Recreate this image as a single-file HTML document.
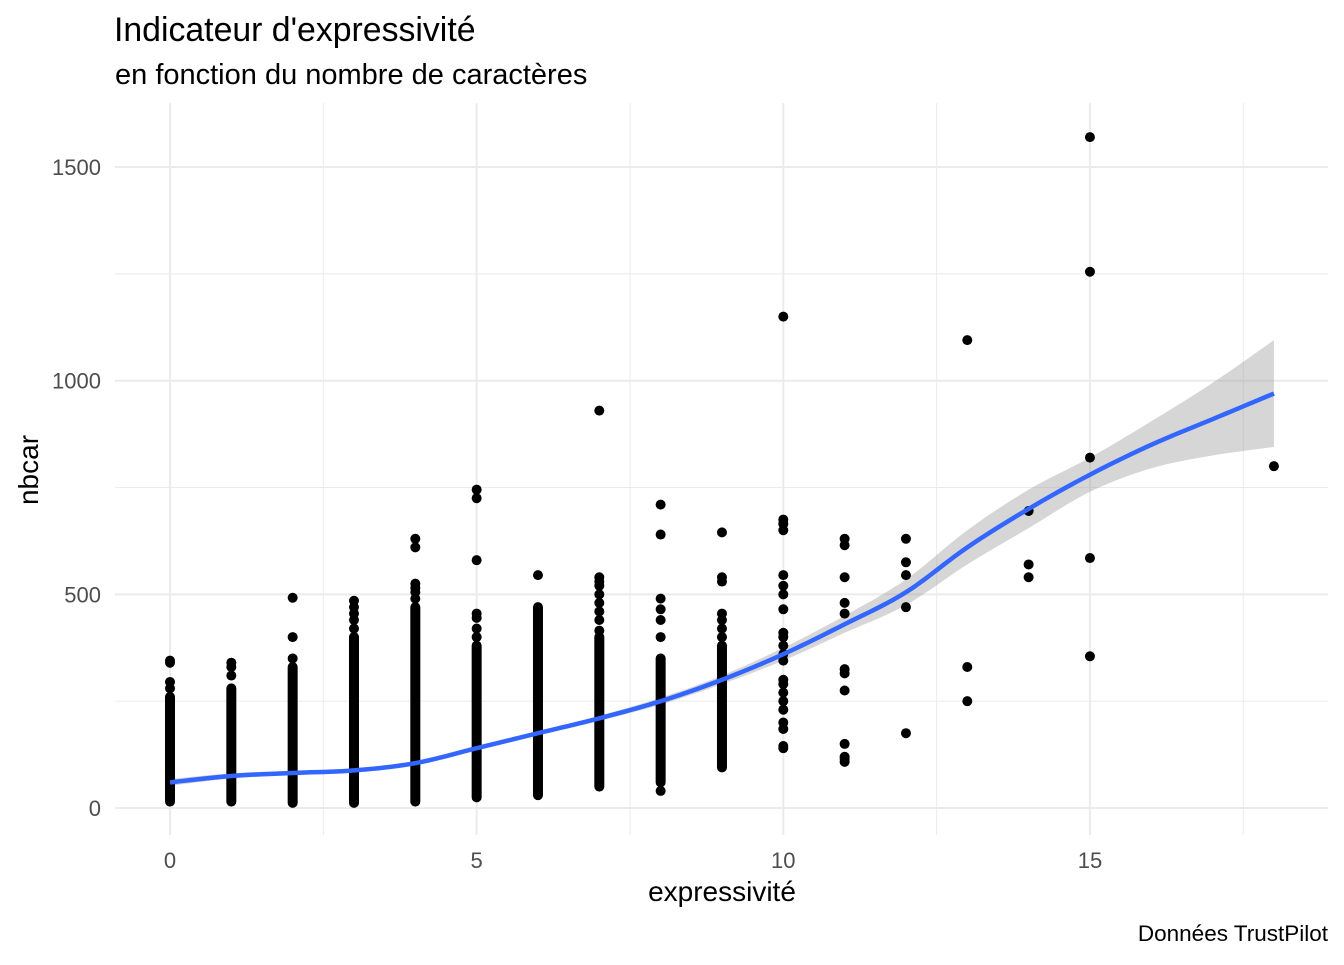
<!DOCTYPE html>
<html><head><meta charset="utf-8"><style>
html,body{margin:0;padding:0;background:#fff;}
svg text{font-family:"Liberation Sans",sans-serif;}
</style></head><body>
<svg id="chart" width="1344" height="960" xmlns="http://www.w3.org/2000/svg">
<text x="114" y="41" font-size="33.8" fill="#000">Indicateur d'expressivité</text>
<text x="115" y="84" font-size="29" fill="#000">en fonction du nombre de caractères</text>
<g id="grid"></g>
<g id="band"></g>
<g id="pts"></g>
<g id="line"></g>
<g id="axes"></g>
<text x="722" y="901" font-size="28" text-anchor="middle" fill="#000">expressivité</text>
<text transform="translate(38,470) rotate(-90)" font-size="28" text-anchor="middle" fill="#000">nbcar</text>
<text x="1328" y="941" font-size="22.5" text-anchor="end" fill="#000">Données TrustPilot</text>
</svg>
<script>
const xTicks=[0,5,10,15];
const yTicks=[0,500,1000,1500];
const xMinor=[2.5,7.5,12.5,17.5];
const yMinor=[250,750,1250];
// dense ranges per expressivity level
const denseX=[0,1,2,3,4,5,6,7,8,9];
const denseLo=[15,15,12,12,15,25,30,50,60,95];
const denseHi=[260,280,330,400,470,380,470,400,350,380];
// isolated points
const ptX=[0,0,0,0,1,1,1,2,2,2,3,3,3,3,3,4,4,4,4,4,4,5,5,5,5,5,5,5,6,7,7,7,7,7,7,7,7,7,8,8,8,8,8,8,8,9,9,9,9,9,9,9,
10,10,10,10,10,10,10,10,10,10,10,10,10,10,10,10,10,10,10,10,10,10,
11,11,11,11,11,11,11,11,11,11,11,11,12,12,12,12,12,13,13,13,14,14,14,15,15,15,15,15,18];
const ptY=[280,295,340,345,310,330,340,350,400,492,420,440,455,470,485,490,505,515,525,610,630,400,420,445,455,580,725,745,545,415,440,460,480,500,520,530,540,930,40,400,440,465,490,640,710,400,420,440,455,530,540,645,
140,145,185,200,230,250,270,290,300,345,360,380,400,410,465,500,520,545,650,665,675,1150,
108,115,120,150,275,315,325,455,480,540,615,630,175,470,545,575,630,250,330,1095,540,570,695,355,585,820,1255,1570,800];
const fitX=[0,1,2,3,4,5,6,7,8,9,10,11,12,13,14,15,16,17,18];
const fitY=[60,75,82,88,105,140,175,210,250,300,360,430,505,610,700,780,850,910,970];
const fitSE=[8,6,5,5,5,5,5,6,8,10,15,20,30,40,45,40,55,85,125];

const sx=v=>170+v*61.33, sy=v=>808-v*0.4273;
const NS='http://www.w3.org/2000/svg';
function mk(tag,parent,attrs){const e=document.createElementNS(NS,tag);for(const k in attrs)e.setAttribute(k,attrs[k]);document.getElementById(parent).appendChild(e);return e;}
function smoothPts(xs,ys){
  const out=[];const n=xs.length;
  for(let i=0;i<n-1;i++){const i0=Math.max(0,i-1),i3=Math.min(n-1,i+2);
    for(let s=0;s<10;s++){const t=s/10,t2=t*t,t3=t2*t;
      const f=(a,b,c,d)=>0.5*(2*b+(-a+c)*t+(2*a-5*b+4*c-d)*t2+(-a+3*b-3*c+d)*t3);
      out.push([f(xs[i0],xs[i],xs[i+1],xs[i3]),f(ys[i0],ys[i],ys[i+1],ys[i3])]);}}
  out.push([xs[n-1],ys[n-1]]);return out;}
const L=115,R=1328,T=103,B=835;
xMinor.forEach(v=>{const e=mk('line','grid',{x1:sx(v),x2:sx(v),y1:T,y2:B,stroke:'#ebebeb','stroke-width':1});

});
yMinor.forEach(v=>{const e=mk('line','grid',{x1:L,x2:R,y1:sy(v),y2:sy(v),stroke:'#ebebeb','stroke-width':1});

});
xTicks.forEach(v=>{const e=mk('line','grid',{x1:sx(v),x2:sx(v),y1:T,y2:B,stroke:'#ebebeb','stroke-width':2});


const t=mk('text','axes',{x:sx(v),y:868,'font-size':22,'text-anchor':'middle',fill:'#4d4d4d'});t.textContent=v;

});
yTicks.forEach(v=>{const e=mk('line','grid',{x1:L,x2:R,y1:sy(v),y2:sy(v),stroke:'#ebebeb','stroke-width':2});


const t=mk('text','axes',{x:101,y:sy(v)+8,'font-size':22,'text-anchor':'end',fill:'#4d4d4d'});t.textContent=v;

});
const upP=smoothPts(fitX,fitX.map((x,i)=>fitY[i]+fitSE[i]));
const loP=smoothPts(fitX,fitX.map((x,i)=>fitY[i]-fitSE[i])).reverse();
const bp=mk('polygon','band',{points:upP.concat(loP).map(p=>sx(p[0])+','+sy(p[1])).join(' '),fill:'#999','fill-opacity':0.4});


denseX.forEach((x,i)=>{const e=mk('line','pts',{x1:sx(x),x2:sx(x),y1:sy(denseLo[i]),y2:sy(denseHi[i]),stroke:'#000','stroke-width':10,'stroke-linecap':'round'});

});
ptX.forEach((x,i)=>{const c=mk('circle','pts',{cx:sx(x),cy:sy(ptY[i]),r:5,fill:'#000'});

});
const pl=mk('polyline','line',{points:smoothPts(fitX,fitY).map(p=>sx(p[0])+','+sy(p[1])).join(' '),fill:'none',stroke:'#3366ff','stroke-width':4.5,'stroke-linejoin':'round'});


</script>
</body></html>
